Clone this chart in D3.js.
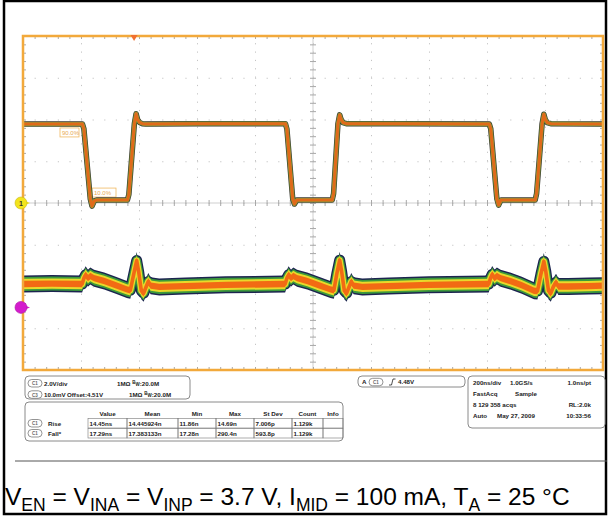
<!DOCTYPE html>
<html><head><meta charset="utf-8">
<script src="https://cdn.jsdelivr.net/npm/d3@7"></script>
<style>
body{margin:0;background:#fff}
svg{display:block}
text{font-family:"Liberation Sans",Arial,sans-serif}
</style>
</head><body>
<svg id="c" width="608" height="516"></svg>
<script>
// ---------- data ----------
// Channel 1 (V, 2 V/div) : [time ns, volts]
const ch1Points = [
 [0,3.78],[205,3.78],[210,3.55],[232,0.2],[238,-0.15],[246,0.1],[254,0.14],
 [360,0.14],[365,0.4],[384,3.8],[390,4.28],[395,4.0],[402,3.86],[412,3.8],[425,3.78],
 [600,3.8],[905,3.8],[910,3.55],[930,0.2],[936,-0.05],[944,0.14],
 [1066,0.14],[1071,0.45],[1086,3.8],[1092,4.22],[1097,4.0],[1104,3.85],[1115,3.8],
 [1300,3.8],[1608,3.78],[1613,3.55],[1634,0.2],[1640,-0.1],[1648,0.14],
 [1766,0.14],[1771,0.45],[1790,3.8],[1796,4.25],[1801,4.0],[1808,3.85],[1820,3.8],[2000,3.78]
];
// Channel 3 (mV, 10 mV/div, offset 4.51 V) : [time ns, mV]
const ch3Points = [
 [0,5.6],[100,5.7],[204,5.6],[210,7.0],[216,7.8],[224,7.0],[232,7.5],[245,7.0],[280,6.3],
 [320,5.3],[358,4.3],[370,4.1],[382,8.0],[392,11.2],[399,8.5],[408,4.0],[416,3.4],[425,5.0],
 [432,6.2],[440,5.2],[470,4.9],[560,5.1],[700,5.4],
 [904,5.6],[910,7.0],[916,7.8],[924,7.0],[932,7.5],[945,7.0],[980,6.3],[1020,5.3],[1060,4.3],
 [1072,4.1],[1082,8.0],[1092,11.3],[1099,8.5],[1108,4.0],[1116,3.4],[1125,5.0],[1132,6.2],
 [1140,5.2],[1170,4.9],[1260,5.1],[1400,5.4],
 [1606,5.6],[1612,7.0],[1618,7.9],[1626,7.0],[1634,7.5],[1647,7.0],[1680,6.3],[1720,5.3],
 [1762,4.0],[1774,3.9],[1786,8.0],[1796,11.0],[1803,8.5],[1812,4.0],[1820,3.4],[1829,5.0],
 [1838,6.0],[1846,5.0],[1880,5.0],[1950,5.1],[2000,5.2]
];
const triggerTime = 383;
const refLabels = [["90.0%", 3.38],["10.0%", 0.5]];
const chanRows = [
  {ch:"C1", scale:"2.0V/div", offset:"", imp:"1MΩ", bw:"20.0M"},
  {ch:"C3", scale:"10.0mV", offset:"Offset:4.51V", imp:"1MΩ", bw:"20.0M"}
];
const measHeaders = ["Value","Mean","Min","Max","St Dev","Count","Info"];
const measNames = ["Rise","Fall*"];
const measRise = ["14.45ns","14.445924n","11.86n","14.69n","7.006p","1.129k",""];
const measFall = ["17.29ns","17.383133n","17.28n","290.4n","593.8p","1.129k",""];
const trigText = ["A","C1","4.48V"];
const acqLines = [
  ["200ns/div","1.0GS/s","1.0ns/pt"],
  ["FastAcq","Sample",""],
  ["8 129 358 acqs","","RL:2.0k"],
  ["Auto","May 27, 2009","10:33:56"]
];

// ---------- drawing ----------
const svg = d3.select("#c");
const X0=23, X1=603, Y0=36, Y1=370;
const x = d3.scaleLinear().domain([0,2000]).range([X0,X1]);
const div = d3.scaleLinear().domain([-4,4]).range([Y1,Y0]);
const y1 = d3.scaleLinear().domain([-8,8]).range([Y1,Y0]);     // 2 V/div, pos 0
const y3 = d3.scaleLinear().domain([-15,65]).range([Y1,Y0]);   // 10 mV/div, pos -2.5 div

// outer frame
svg.append("rect").attr("x",4).attr("y",1).attr("width",602).attr("height",513)
  .attr("fill","none").attr("stroke","#000").attr("stroke-width",2.5);

const plot = svg.append("g");
// dotted grid
const vgrid = plot.append("g").attr("transform",`translate(0,${Y1})`)
  .call(d3.axisTop(x).tickValues(d3.range(200,2000,200)).tickSize(Y1-Y0).tickFormat(""));
vgrid.select(".domain").remove();
vgrid.selectAll("line").attr("stroke","#c4c4c4").attr("stroke-dasharray","1.2,7.15");
const hgrid = plot.append("g").attr("transform",`translate(${X0},0)`)
  .call(d3.axisRight(div).tickValues(d3.range(-3,4,1)).tickSize(X1-X0).tickFormat(""));
hgrid.select(".domain").remove();
hgrid.selectAll("line").attr("stroke","#c4c4c4").attr("stroke-dasharray","1.2,10.4");

// center cross lines
plot.append("line").attr("x1",x(1000)).attr("x2",x(1000)).attr("y1",Y0).attr("y2",Y1).attr("stroke","#cfcfcf");
plot.append("line").attr("x1",X0).attr("x2",X1).attr("y1",div(0)).attr("y2",div(0)).attr("stroke","#cfcfcf");

function tickStyle(g){ g.select(".domain").remove(); g.selectAll("line").attr("stroke","#a8a8a8"); }
const minorX = d3.range(0,2001,40), minorY = d3.range(-4,4.01,0.2);
[d3.axisTop, d3.axisBottom].forEach(a=>{
  plot.append("g").attr("transform",`translate(0,${div(0)})`).call(a(x).tickValues(minorX).tickSize(3).tickFormat("")).call(tickStyle);
});
[d3.axisLeft, d3.axisRight].forEach(a=>{
  plot.append("g").attr("transform",`translate(${x(1000)},0)`).call(a(div).tickValues(minorY).tickSize(3).tickFormat("")).call(tickStyle);
});
plot.append("g").attr("transform",`translate(0,${Y0})`).call(d3.axisBottom(x).tickValues(minorX).tickSize(3).tickFormat("")).call(tickStyle);
plot.append("g").attr("transform",`translate(0,${Y1})`).call(d3.axisTop(x).tickValues(minorX).tickSize(3).tickFormat("")).call(tickStyle);
plot.append("g").attr("transform",`translate(${X0},0)`).call(d3.axisRight(div).tickValues(minorY).tickSize(3).tickFormat("")).call(tickStyle);
plot.append("g").attr("transform",`translate(${X1},0)`).call(d3.axisLeft(div).tickValues(minorY).tickSize(3).tickFormat("")).call(tickStyle);

// reference level boxes
refLabels.forEach((r,i)=>{
  const lx = i===0 ? 60 : 92, cy = y1(r[1]);
  const g = plot.append("g");
  g.append("rect").attr("x",lx).attr("y",cy-4.5).attr("width",i===0?19:24).attr("height",9)
   .attr("fill","#fff").attr("fill-opacity",0.6).attr("stroke","#f0b860").attr("stroke-width",0.8);
  g.append("text").attr("x",lx+2).attr("y",cy+2.5).attr("font-size",6).attr("fill","#e8a850").text(r[0]);
});

// ch3 persistence band: vertical band + stroke so steep parts keep body
const line3 = d3.line().x(d=>x(d[0])).y(d=>y3(d[1]));
[["#1c2450",8.5,11],["#3c9a3c",7,8.5],["#e9d92a",5.2,6.2],["#f26a14",3.2,3.6]].forEach(([c,h,w])=>{
  const area = d3.area().x(d=>x(d[0])).y0(d=>y3(d[1])+h).y1(d=>y3(d[1])-h);
  plot.append("path").attr("d",area(ch3Points)).attr("fill",c);
  plot.append("path").attr("d",line3(ch3Points)).attr("fill","none").attr("stroke",c)
    .attr("stroke-width",w).attr("stroke-linejoin","round");
});
// ch1 trace
const line1 = d3.line().x(d=>x(d[0])).y(d=>y1(d[1]));
[["#3b3b30",5.5],["#7f9a3a",4.2],["#e06a1a",3]].forEach(([c,w])=>{
  plot.append("path").attr("d",line1(ch1Points)).attr("fill","none").attr("stroke",c)
    .attr("stroke-width",w).attr("stroke-linejoin","round");
});

// plot border
plot.append("rect").attr("x",X0).attr("y",Y0).attr("width",X1-X0).attr("height",Y1-Y0)
  .attr("fill","none").attr("stroke","#f2a93b").attr("stroke-width",2.5);

// trigger position marker
const tx = x(triggerTime);
plot.append("path").attr("d",`M${tx-3.5},${Y0-1}L${tx+3.5},${Y0-1}L${tx},${Y0+5}Z`).attr("fill","#f07030");

// channel markers
function marker(cy, col, label){
  const g = svg.append("g");
  g.append("path").attr("d",`M${X0-2},${cy-3.5}L${X0+7},${cy}L${X0-2},${cy+3.5}Z`).attr("fill",col);
  g.append("circle").attr("cx",X0-2).attr("cy",cy).attr("r",6).attr("fill",col).attr("stroke",d3.color(col).darker(0.6)).attr("stroke-width",0.6);
  g.append("text").attr("x",X0-2).attr("y",cy+2.5).attr("text-anchor","middle").attr("font-size",7).attr("font-weight","bold").attr("fill","#333").text(label);
}
marker(y1(0), "#f3e41c", "1");
marker(y3(0), "#d41ccc", "");

// ---------- info panels ----------
const info = svg.append("g").attr("fill","#222").attr("font-size",6.2).attr("font-weight","bold");
function panel(px,py,w,h){ info.append("rect").attr("x",px).attr("y",py).attr("width",w).attr("height",h).attr("rx",4)
  .attr("fill","#fff").attr("stroke","#8a8a8a").attr("stroke-width",1); }
function badge(bx,by,t){ info.append("rect").attr("x",bx).attr("y",by-6).attr("width",14).attr("height",7.5).attr("rx",3.7)
   .attr("fill","#fff").attr("stroke","#666").attr("stroke-width",0.7);
  info.append("text").attr("x",bx+7).attr("y",by-0.3).attr("text-anchor","middle").attr("font-size",4.5).attr("fill","#666").text(t); }

panel(25,376,165,23);
chanRows.forEach((r,i)=>{
  const by = 385.5 + i*11.3;
  badge(28,by,r.ch);
  info.append("text").attr("x",44).attr("y",by).text(r.scale);
  if(r.offset) info.append("text").attr("x",67).attr("y",by).text(r.offset);
  const ix = i===0 ? 117 : 129;
  const t = info.append("text").attr("x",ix).attr("y",by);
  t.append("tspan").text(r.imp+" ");
  t.append("tspan").attr("font-size",4.5).attr("dy",-1.5).text("B");
  t.append("tspan").attr("font-size",4.5).attr("dy",2).text("W");
  t.append("tspan").attr("dy",-0.5).text(":"+r.bw);
});

panel(25,402,318,39);
const colEdges = [88,127,178,216,254,292,323,343];
measHeaders.forEach((h,i)=>{
  info.append("text").attr("x",(colEdges[i]+colEdges[i+1])/2).attr("y",415.5).attr("text-anchor","middle").text(h);
});
[measRise, measFall].forEach((row,r)=>{
  const top = 418.5 + r*10;
  badge(28, top+7, "C1");
  info.append("text").attr("x",48).attr("y",top+7).text(measNames[r]);
  row.forEach((v,i)=>{
    info.append("rect").attr("x",colEdges[i]).attr("y",top).attr("width",colEdges[i+1]-colEdges[i]).attr("height",9.5)
      .attr("fill","none").attr("stroke","#777").attr("stroke-width",0.6);
    info.append("text").attr("x",colEdges[i]+1.5).attr("y",top+7).text(v);
  });
});

panel(358,376,107,11);
info.append("text").attr("x",362).attr("y",384.3).text(trigText[0]);
badge(369,384.3,trigText[1]);
info.append("path").attr("d","M389,385 L391.5,385 L393,379 L395.5,379").attr("fill","none").attr("stroke","#222").attr("stroke-width",0.8);
info.append("text").attr("x",398).attr("y",384.3).text(trigText[2]);

panel(468,376,137,52);
acqLines.forEach((l,i)=>{
  const by = 384.8 + i*11.2;
  info.append("text").attr("x",473).attr("y",by).text(l[0]);
  if(l[1]) info.append("text").attr("x",i===3?497:(i===1?515:510)).attr("y",by).text(l[1]);
  if(l[2]) info.append("text").attr("x",591).attr("y",by).attr("text-anchor","end").text(l[2]);
});

// separator + caption
svg.append("line").attr("x1",15).attr("x2",607).attr("y1",461).attr("y2",461).attr("stroke","#555").attr("stroke-width",1);
const cap = svg.append("text").attr("x",5).attr("y",505).attr("font-size",24.5).attr("fill","#000");
const capParts = [["V",""],["EN","s"],[" = V",""],["INA","s"],[" = V",""],["INP","s"],[" = 3.7 V, I",""],["MID","s"],[" = 100 mA, T",""],["A","s"],[" = 25 °C",""]];
let sub=false;
capParts.forEach(([t,k])=>{
  const ts = cap.append("tspan").text(t);
  if(k==="s"){ ts.attr("font-size",17.5).attr("dy", sub?0:6); sub=true; }
  else { if(sub){ ts.attr("dy",-6); } sub=false; }
});
</script>
</body></html>
